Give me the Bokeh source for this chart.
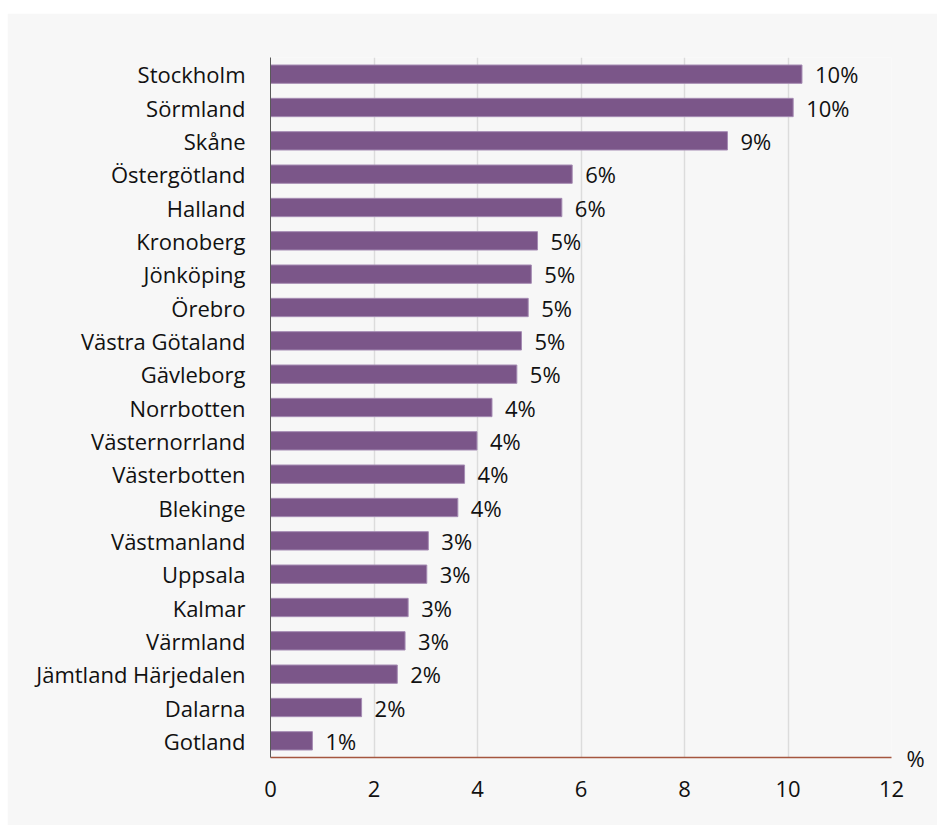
from bokeh.plotting import figure
from bokeh.models import (ColumnDataSource, Range1d, Spacer, FixedTicker, LinearAxis)
from bokeh.layouts import column, row
from bokeh.core.properties import value
from bokeh.embed import file_html
from bokeh.resources import INLINE

regions = ["Stockholm", "Sörmland", "Skåne", "Östergötland", "Halland", "Kronoberg",
           "Jönköping", "Örebro", "Västra Götaland", "Gävleborg", "Norrbotten",
           "Västernorrland", "Västerbotten", "Blekinge", "Västmanland", "Uppsala",
           "Kalmar", "Värmland", "Jämtland Härjedalen", "Dalarna", "Gotland"]
shares = [10.27, 10.10, 8.83, 5.83, 5.63, 5.16, 5.04, 4.98, 4.85, 4.76, 4.28,
          3.99, 3.75, 3.62, 3.05, 3.02, 2.66, 2.60, 2.45, 1.76, 0.81]
share_labels = ["10%", "10%", "9%", "6%", "6%", "5%", "5%", "5%", "5%", "5%", "4%",
                "4%", "4%", "4%", "3%", "3%", "3%", "3%", "2%", "2%", "1%"]
x_ticks = [0, 2, 4, 6, 8, 10, 12]
unit_label = "%"

FONT = "Open Sans"
FS = "22px"
BG = "#f7f7f7"
TXT = "#111111"

n = len(regions)
ypos = [n - 1 - i for i in range(n)]  # first region at the top

src = ColumnDataSource(dict(y=ypos, region=regions, share=shares, label=share_labels))

p = figure(y_range=Range1d(-0.5, n - 0.5),
           x_range=Range1d(x_ticks[0], x_ticks[-1]),
           frame_width=621, frame_height=700,
           min_border_left=263, min_border_right=46,
           min_border_top=44, min_border_bottom=68,
           output_backend="svg", toolbar_location=None)

p.background_fill_color = BG
p.border_fill_color = BG
p.outline_line_color = None

p.hbar(y="y", right="share", left=0, height=0.55, source=src,
       fill_color="#7b5689", line_color="#a58bb3", line_width=1)

p.text(x="share", y="y", text="label", source=src, x_offset=13,
       text_baseline="middle", text_align="left", text_font_size=FS,
       text_font=value(FONT), text_color=TXT)

p.xgrid.grid_line_color = "#dcdcdc"
p.xgrid.grid_line_width = 1.5
p.ygrid.grid_line_color = None

xa = p.xaxis[0]
xa.ticker = FixedTicker(ticks=x_ticks)
xa.axis_line_color = "#a5563f"
xa.axis_line_width = 1.5
xa.major_tick_line_color = None
xa.minor_tick_line_color = None
xa.major_label_text_font = FONT
xa.major_label_text_font_size = FS
xa.major_label_text_color = TXT
xa.major_label_standoff = 17

ya = p.yaxis[0]
ya.ticker = FixedTicker(ticks=ypos, minor_ticks=[])
ya.major_label_overrides = {yy: name for yy, name in zip(ypos, regions)}
ya.axis_line_color = "#595959"
ya.axis_line_width = 1
ya.major_tick_line_color = None
ya.minor_tick_line_color = None
ya.major_label_text_font = FONT
ya.major_label_text_font_size = FS
ya.major_label_text_color = TXT
ya.major_label_standoff = 19

# unit label "%" at the right end of the x axis, via an extra right-side axis
p.extra_y_ranges = {"unit": Range1d(0, 1)}
ua = LinearAxis(y_range_name="unit", ticker=FixedTicker(ticks=[0], minor_ticks=[]),
                major_label_overrides={0: unit_label})
ua.axis_line_color = None
ua.major_tick_line_color = None
ua.minor_tick_line_color = None
ua.major_label_text_font = FONT
ua.major_label_text_font_size = FS
ua.major_label_text_color = TXT
ua.major_label_standoff = 9
p.add_layout(ua, "right")

layout = row(Spacer(width=7, height=10),
             column(Spacer(height=13, width=930), p, spacing=0),
             spacing=0)
open("out.html", "w").write(file_html(layout, INLINE))
